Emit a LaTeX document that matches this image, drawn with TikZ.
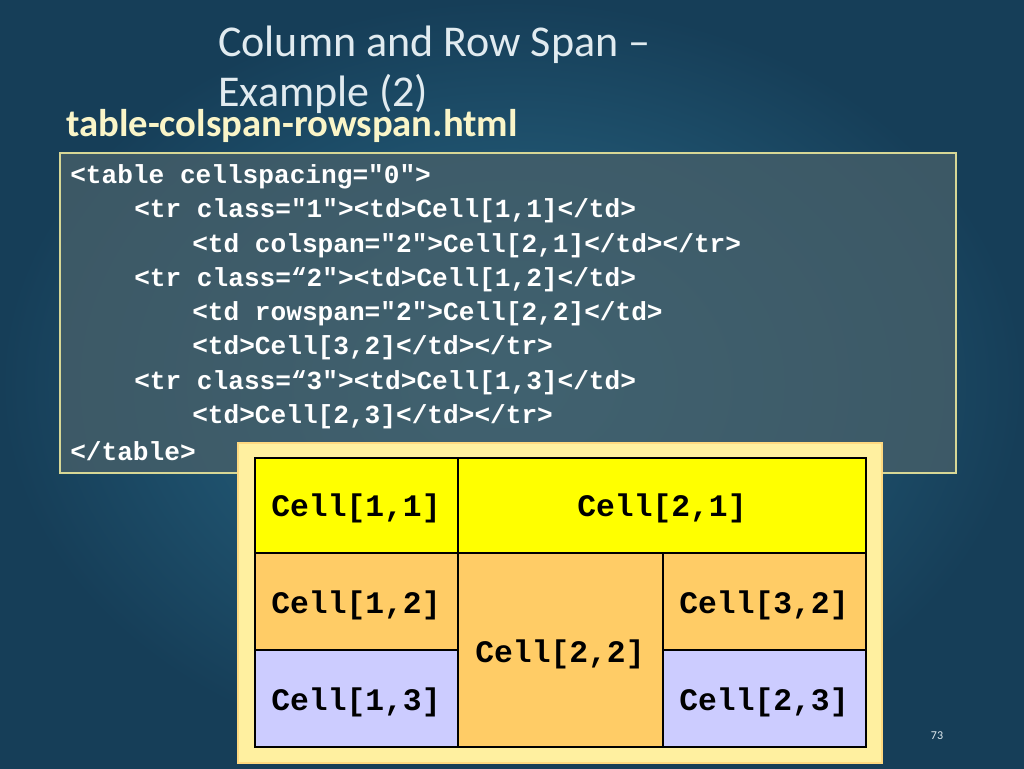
\documentclass[tikz,border=0pt]{standalone}
\usepackage{fontspec}
\setmainfont{Carlito}
\newfontfamily\codefont{Liberation Mono}
\usetikzlibrary{positioning}
\definecolor{bgin}{RGB}{44,110,140}
\definecolor{bgout}{RGB}{22,62,88}
\definecolor{titlecol}{RGB}{225,235,240}
\definecolor{subcol}{RGB}{250,245,200}
\definecolor{codeframe}{RGB}{215,215,150}
\definecolor{codefill}{RGB}{70,95,105}
\definecolor{cellyellow}{RGB}{255,255,0}
\definecolor{cellorange}{RGB}{255,204,102}
\definecolor{celllav}{RGB}{204,204,255}
\definecolor{framefill}{RGB}{255,240,160}
\tikzset{
  codeline/.style={anchor=west,inner sep=0pt,text=white,font=\codefont\bfseries\fontsize{19.6}{19.6}\selectfont},
  cellbox/.style={draw=black,line width=1.5pt},
  celltext/.style={font=\codefont\bfseries\fontsize{23.5}{23.5}\selectfont}
}
\begin{document}
\begin{tikzpicture}[x=0.75pt,y=0.75pt,yscale=-1,xscale=1]
        % background
        \shade[inner color=bgin,outer color=bgout] (0,0) rectangle (1024,768);
        \useasboundingbox (0,0) rectangle (1024,768);
        
        % title
        \node (title) [anchor=north west,align=left,text=titlecol,font=\fontsize{33}{37}\selectfont,inner sep=0pt] at (218,26) {Column and Row Span --\\Example (2)};
        \node (sub) [anchor=west,text=subcol,font=\bfseries\fontsize{29}{29}\selectfont,inner sep=0pt] at (66,126) {table-colspan-rowspan.html};
        
        % code box
        \draw [draw=codeframe,fill=codefill,fill opacity=0.8,line width=1pt] (60,153) rectangle (956,473);
        \node (c1) [codeline] at (70,177) {<table cellspacing="0">};
        \node (c2) [codeline] at (134,211) {<tr class="1"><td>Cell[1,1]</td>};
        \node (c3) [codeline] at (192,246) {<td colspan="2">Cell[2,1]</td></tr>};
        \node (c4) [codeline] at (134,280) {<tr class=“2"><td>Cell[1,2]</td>};
        \node (c5) [codeline] at (192,314) {<td rowspan="2">Cell[2,2]</td>};
        \node (c6) [codeline] at (192,348) {<td>Cell[3,2]</td></tr>};
        \node (c7) [codeline] at (134,383) {<tr class=“3"><td>Cell[1,3]</td>};
        \node (c8) [codeline] at (192,417) {<td>Cell[2,3]</td></tr>};
        \node (c9) [codeline] at (70,451) {</table>};
        
        % rendered table
        \draw [draw=framefill!80!orange,fill=framefill,line width=1pt] (238,443) rectangle (882,763);
        \draw [cellbox,fill=cellyellow] (255,458) rectangle (458,553);
        \draw [cellbox,fill=cellyellow] (458,458) rectangle (866,553);
        \draw [cellbox,fill=cellorange] (255,553) rectangle (458,650);
        \draw [cellbox,fill=cellorange] (458,553) rectangle (663,747);
        \draw [cellbox,fill=cellorange] (663,553) rectangle (866,650);
        \draw [cellbox,fill=celllav] (255,650) rectangle (458,747);
        \draw [cellbox,fill=celllav] (663,650) rectangle (866,747);
        \node (t11) [celltext] at (356,508) {Cell[1,1]};
        \node (t21) [celltext] at (662,508) {Cell[2,1]};
        \node (t12) [celltext] at (356,605) {Cell[1,2]};
        \node (t22) [celltext] at (560,654) {Cell[2,2]};
        \node (t32) [celltext] at (764,605) {Cell[3,2]};
        \node (t13) [celltext] at (356,702) {Cell[1,3]};
        \node (t23) [celltext] at (764,702) {Cell[2,3]};
        
        % page number
        \node (page) [text=titlecol,font=\fontsize{9}{9}\selectfont] at (937,736) {73};
\end{tikzpicture}
\end{document}
